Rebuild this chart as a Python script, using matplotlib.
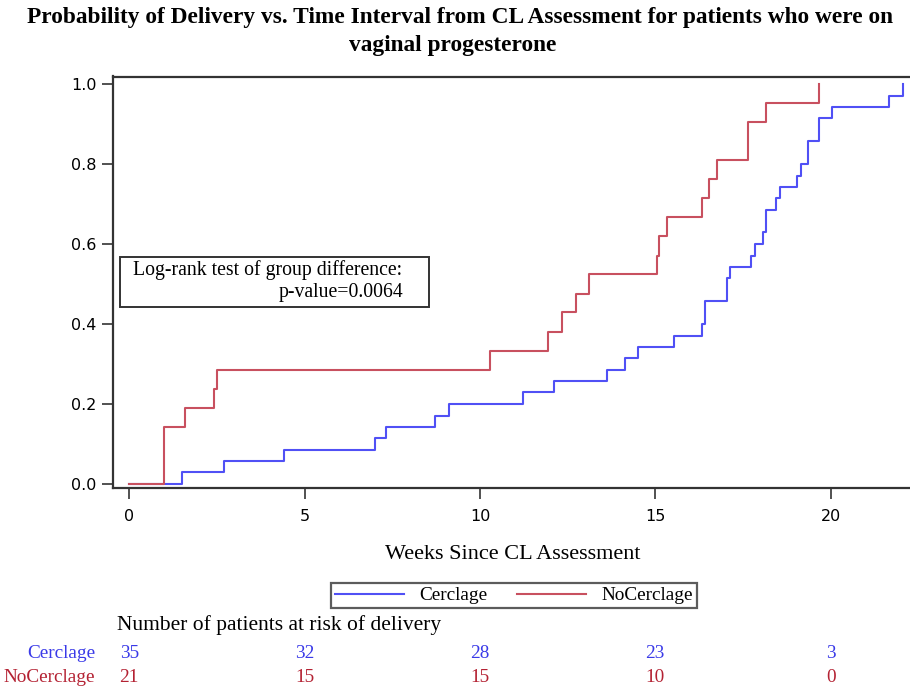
import matplotlib
matplotlib.use('Agg')
import matplotlib.pyplot as plt
import matplotlib.transforms as mtransforms
from matplotlib.lines import Line2D

# Kaplan-Meier style cumulative probability of delivery (weeks since CL assessment)
cerclage_weeks = [0, 1.49, 2.70, 4.40, 7.01, 7.31, 8.72, 9.13, 11.22, 12.11, 13.63,
                  14.13, 14.52, 15.53, 16.32, 16.43, 17.04, 17.13, 17.74, 17.84, 18.08,
                  18.15, 18.43, 18.55, 19.03, 19.15, 19.36, 19.67, 20.05, 21.66, 22.05]
cerclage_prob = [0, 0.029, 0.057, 0.086, 0.114, 0.143, 0.171, 0.200, 0.229, 0.257, 0.286,
                 0.314, 0.343, 0.371, 0.400, 0.457, 0.514, 0.543, 0.571, 0.600, 0.629,
                 0.686, 0.714, 0.743, 0.771, 0.800, 0.857, 0.914, 0.943, 0.971, 1.0]

nocerclage_weeks = [0, 1.0, 1.6, 2.42, 2.51, 10.3, 11.93, 12.33, 12.74, 13.12, 15.04,
                    15.10, 15.34, 16.32, 16.54, 16.75, 17.64, 18.15, 19.67]
nocerclage_prob = [0, 0.143, 0.190, 0.238, 0.286, 0.333, 0.381, 0.429, 0.476, 0.524, 0.571,
                   0.619, 0.667, 0.714, 0.762, 0.810, 0.905, 0.952, 1.0]

# patients at risk table
risk_weeks = [0, 5, 10, 15, 20]
risk_cerclage = [35, 32, 28, 23, 3]
risk_nocerclage = [21, 15, 15, 10, 0]

blue = '#5050F5'
red = '#C8505F'
blue_txt = '#3A3AE8'
red_txt = '#B42233'
serif = 'Liberation Serif'

W, H = 910, 690
fig = plt.figure(figsize=(W / 100, H / 100), dpi=100)

# axes box in pixels: left 113, top 76.5, bottom 488, runs past right edge
ax = fig.add_axes([113.3 / W, 1 - 488.3 / H, (912 - 113.3) / W, (488.3 - 76.5) / H])
ax.step(cerclage_weeks, cerclage_prob, where='post', color=blue, lw=1.5)
ax.step(nocerclage_weeks, nocerclage_prob, where='post', color=red, lw=1.5)

ax.set_xlim(-0.456, 22.32)
ax.set_ylim(-0.011, 1.019)
ax.set_xticks(risk_weeks)
ax.set_yticks([0.0, 0.2, 0.4, 0.6, 0.8, 1.0])
ax.set_yticklabels(['0.0', '0.2', '0.4', '0.6', '0.8', '1.0'])
ax.tick_params(direction='out', length=8, width=1.2, colors='#333333',
               labelsize=11.5, pad=4)
ax.tick_params(axis='x', pad=7)
for lab in ax.get_xticklabels() + ax.get_yticklabels():
    lab.set_color('black')
for s in ['left', 'bottom', 'top']:
    ax.spines[s].set_linewidth(1.6)
    ax.spines[s].set_color('#333333')
ax.spines['right'].set_visible(False)

ax.set_xlabel('Weeks Since CL Assessment', family=serif, fontsize=16, labelpad=15)

# log-rank annotation box
fig.patches.append(plt.Rectangle((120 / W, 1 - 307.3 / H), (429.3 - 120) / W, (307.3 - 257.3) / H,
                                 transform=fig.transFigure, fill=False,
                                 edgecolor='#333333', lw=1.4))
fig.text(133 / W, 1 - 270 / H, 'Log-rank test of group difference:', family=serif,
         fontsize=14.2, va='center', ha='left')
fig.text(403 / W, 1 - 292.5 / H, 'p-value=0.0064', family=serif,
         fontsize=14.2, va='center', ha='right')

# title
fig.text(460 / W, 1 - 18 / H,
         'Probability of Delivery vs. Time Interval from CL Assessment for patients who were on',
         family=serif, weight='bold', fontsize=16.8, ha='center', va='center')
fig.text(453 / W, 1 - 45 / H, 'vaginal progesterone',
         family=serif, weight='bold', fontsize=16.8, ha='center', va='center')

# legend
handles = [Line2D([0], [0], color=blue, lw=1.5, label='Cerclage'),
           Line2D([0], [0], color=red, lw=1.5, label='NoCerclage')]
leg = fig.legend(handles=handles, loc='center', bbox_to_anchor=(514 / W, 1 - 595.5 / H),
                 ncol=2, frameon=True, fancybox=False, prop={'family': serif, 'size': 13.9},
                 handlelength=3.6, columnspacing=1.5, borderpad=0.2, handletextpad=0.8,
                 borderaxespad=0)
leg.get_frame().set_edgecolor('#333333')
leg.get_frame().set_linewidth(1.6)

# at-risk table
fig.text(117 / W, 1 - 625 / H, 'Number of patients at risk of delivery', family=serif,
         fontsize=15.5, va='center', ha='left')
trans = mtransforms.blended_transform_factory(ax.transData, fig.transFigure)
fig.text(95 / W, 1 - 653 / H, 'Cerclage', family=serif, fontsize=13.9, color=blue_txt,
         ha='right', va='center')
fig.text(95 / W, 1 - 677 / H, 'NoCerclage', family=serif, fontsize=13.9, color=red_txt,
         ha='right', va='center')
for wk, nc, nn in zip(risk_weeks, risk_cerclage, risk_nocerclage):
    ax.text(wk, 1 - 653 / H, str(nc), transform=trans, family=serif, fontsize=13.9,
            color=blue_txt, ha='center', va='center', clip_on=False)
    ax.text(wk, 1 - 677 / H, str(nn), transform=trans, family=serif, fontsize=13.9,
            color=red_txt, ha='center', va='center', clip_on=False)

fig.savefig('out.png', dpi=100)
